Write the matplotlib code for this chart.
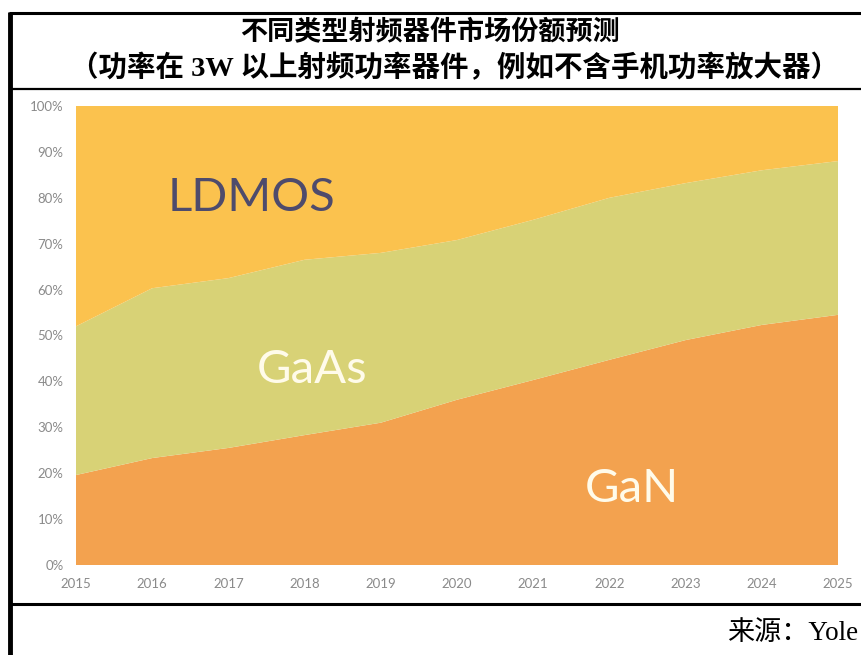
import matplotlib
matplotlib.use("Agg")
import matplotlib.pyplot as plt
from matplotlib.lines import Line2D

years = [2015, 2016, 2017, 2018, 2019, 2020, 2021, 2022, 2023, 2024, 2025]
gan = [19.6, 23.3, 25.5, 28.3, 31.0, 36.0, 40.3, 44.7, 49.0, 52.3, 54.5]
gaas = [32.4, 37.0, 37.0, 38.2, 37.0, 34.8, 34.9, 35.3, 34.2, 33.7, 33.5]
ldmos = [48.0, 39.7, 37.5, 33.5, 32.0, 29.2, 24.8, 20.0, 16.8, 14.0, 12.0]
y_ticks = [0, 10, 20, 30, 40, 50, 60, 70, 80, 90, 100]
y_labels = [f"{v}%" for v in y_ticks]
series_names = ["GaN", "GaAs", "LDMOS"]
title1 = "不同类型射频器件市场份额预测"
title2 = "（功率在 3W 以上射频功率器件，例如不含手机功率放大器）"
source = "来源：Yole"

W, H = 861, 655
fig = plt.figure(figsize=(W / 100, H / 100), dpi=100)
fig.patch.set_facecolor("white")

ax = fig.add_axes([76 / W, 1 - 565 / H, (838 - 76) / W, (565 - 106) / H])
colors = ["#F3A24F", "#D8D276", "#FBC24E"]
ax.stackplot(years, gan, gaas, ldmos, colors=colors, linewidth=0)
ax.set_xlim(years[0], years[-1])
ax.set_ylim(0, 100)
for s in ax.spines.values():
    s.set_visible(False)
ax.set_yticks(y_ticks)
ax.set_yticklabels(y_labels)
ax.set_xticks(years)
ax.set_xticklabels([str(y) for y in years])
ax.tick_params(length=0, labelsize=9.5, labelcolor="#8a8a8a", pad=9)
for lab in ax.get_xticklabels() + ax.get_yticklabels():
    lab.set_family("Lato")

# series labels
ax.text(2017.3, 80, series_names[2], fontsize=34, color="#4E4B6C", family="Lato",
        ha="center", va="center")
ax.text(2018.1, 42.5, series_names[1], fontsize=34, color="#FFFBEA", family="Lato",
        ha="center", va="center")
ax.text(2022.3, 16.5, series_names[0], fontsize=34, color="#FFFBEA", family="Lato",
        ha="center", va="center")

fam = ["Liberation Serif", "Noto Sans CJK SC"]
fig.text(430 / W, 1 - 33 / H, title1, ha="center", va="center", fontsize=19.5,
         family=fam, color="black", weight="bold")
fig.text(455 / W, 1 - 68 / H, title2, ha="center", va="center", fontsize=20.5,
         family=fam, color="black", weight="bold")
fig.text(858 / W, 1 - 633 / H, source, ha="right", va="center", fontsize=19.5,
         family=fam, color="black")

# frame lines
def hline(y, lw):
    fig.add_artist(Line2D([9 / W, 1], [1 - y / H, 1 - y / H], color="black", lw=lw,
                          transform=fig.transFigure, solid_capstyle="butt"))

hline(13, 2.2)
hline(88.5, 1.6)
hline(603.5, 2.2)
fig.add_artist(Line2D([9.5 / W, 9.5 / W], [0, 1 - 12 / H], color="black", lw=3.5,
                      transform=fig.transFigure, solid_capstyle="butt"))

fig.savefig("out.png", dpi=100)
